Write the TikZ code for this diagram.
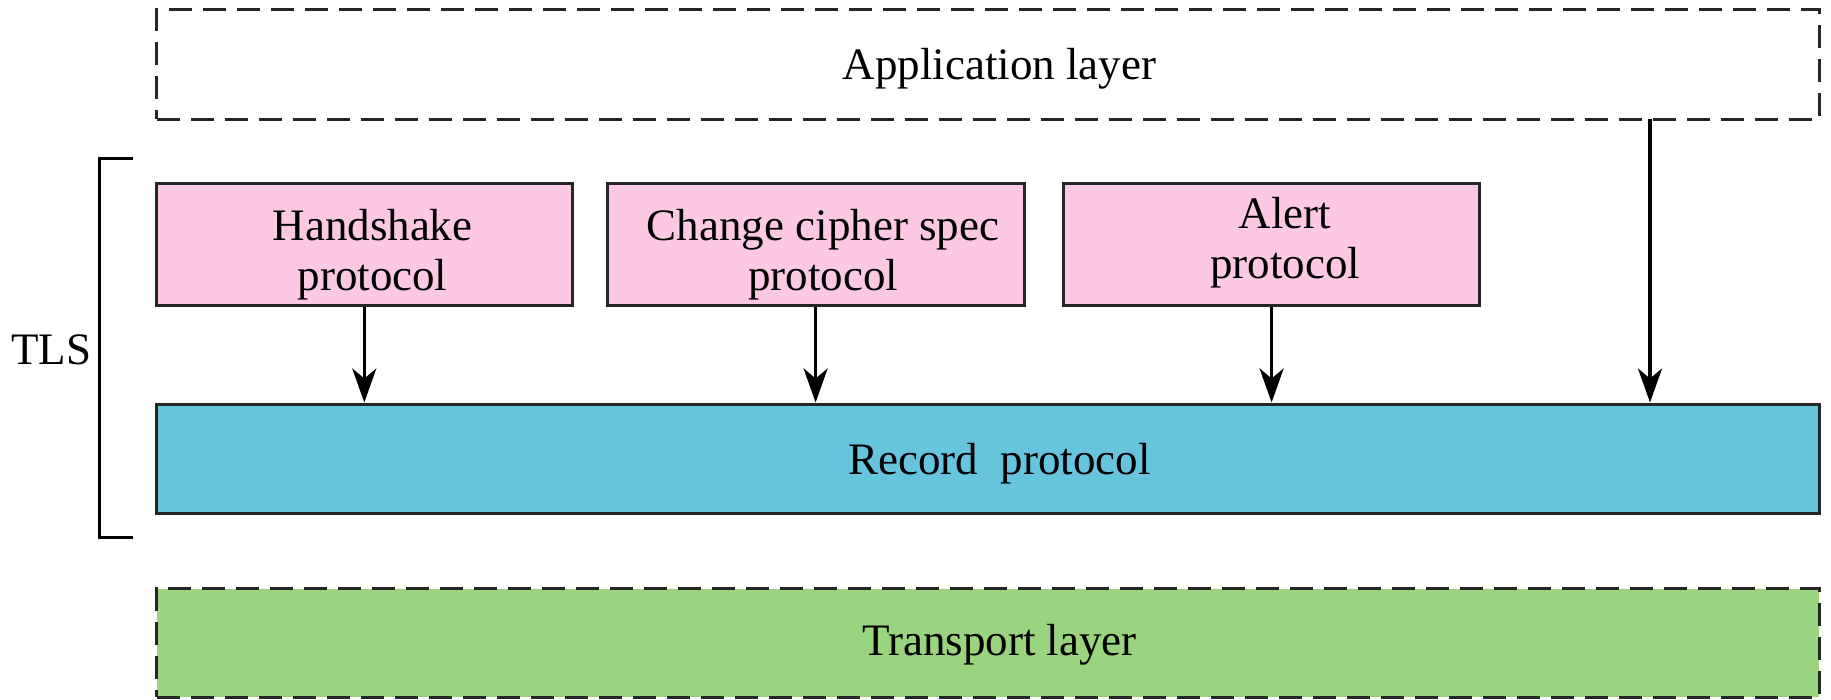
\documentclass[tikz,border=0pt]{standalone}
\usepackage{fontspec}
\setmainfont{Liberation Serif}
\usetikzlibrary{arrows.meta}
\definecolor{pinkfill}{HTML}{FDC8E3}
\definecolor{bluefill}{HTML}{66C4DD}
\definecolor{greenfill}{HTML}{9AD47F}
\begin{document}
\begin{tikzpicture}[x=1pt,y=-1pt,
  every node/.style={font=\fontsize{45}{50}\selectfont},
  boxbase/.style={draw=black!85,line width=3pt,rectangle,inner sep=0pt},
  dashbox/.style={boxbase,dash pattern=on 23pt off 11pt,minimum width=1662.8pt,minimum height=109.8pt},
  pinkbox/.style={boxbase,fill=pinkfill,minimum width=415.7pt,minimum height=122.6pt},
  lbl/.style={align=center,inner sep=0pt},
  flow/.style={line width=3.5pt,-{Stealth[length=34pt,width=24pt,inset=10pt]}}]
\useasboundingbox (0,0) rectangle (1831,699);
\node[dashbox,fill=white] (app) at (987.9,64.2) {};
\node[lbl] (applbl) at (999.5,69) {Application layer};
\node[pinkbox] (hs) at (364.3,244.6) {};
\node[lbl] (hslbl) at (372.5,255) {Handshake\\protocol};
\node[pinkbox,minimum width=416.9pt] (ccs) at (815.6,244.6) {};
\node[lbl] (ccslbl) at (823,255) {Change cipher spec\\protocol};
\node[pinkbox] (al) at (1271.6,244.6) {};
\node[lbl] (allbl) at (1285,243) {Alert\\protocol};
\node[boxbase,fill=bluefill,minimum width=1662.8pt,minimum height=109.8pt] (rec) at (987.9,458.9) {};
\node[lbl] (reclbl) at (999.5,463.5) {Record\ \ protocol};
\node[dashbox,fill=greenfill,minimum height=108.6pt] (tr) at (987.9,642.8) {};
\node[lbl] (trlbl) at (999.5,645) {Transport layer};
\node[lbl] (tls) at (51.4,350) {TLS};
\coordinate (b1) at (133,158.8);
\coordinate (b2) at (99.3,158.8);
\coordinate (b3) at (99.3,537.2);
\coordinate (b4) at (133,537.2);
\draw[line width=3pt] (b1) -- (b2) -- (b3) -- (b4);
\draw[flow] (hs.south) -- (hs.south |- rec.north);
\draw[flow] (ccs.south) -- (ccs.south |- rec.north);
\draw[flow] (al.south) -- (al.south |- rec.north);
\coordinate (appout) at (1650,119.1);
\draw[flow] (appout) -- (appout |- rec.north);
\end{tikzpicture}
\end{document}
